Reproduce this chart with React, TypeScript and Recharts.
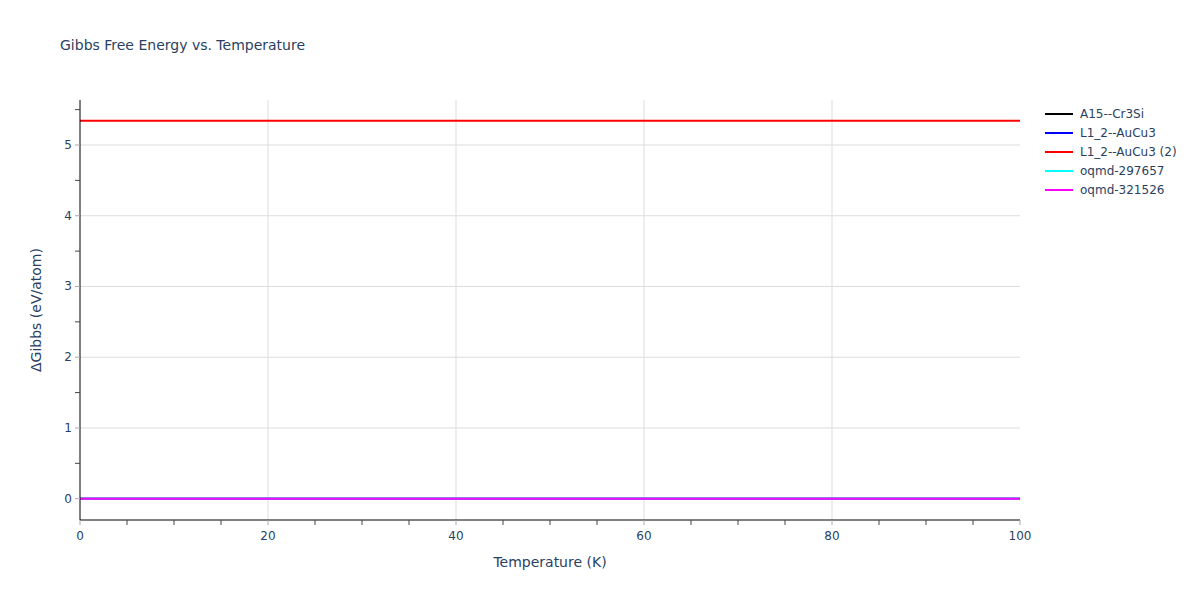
import { LineChart, Line, XAxis, YAxis, CartesianGrid, Label } from "recharts"

const temperature = [0, 10, 20, 30, 40, 50, 60, 70, 80, 90, 100]
const a15Cr3Si = [0, 0, 0, 0, 0, 0, 0, 0, 0, 0, 0]
const l12AuCu3 = [0, 0, 0, 0, 0, 0, 0, 0, 0, 0, 0]
const l12AuCu3b = [5.343, 5.343, 5.343, 5.343, 5.343, 5.343, 5.343, 5.343, 5.343, 5.343, 5.343]
const oqmd297657 = [0, 0, 0, 0, 0, 0, 0, 0, 0, 0, 0]
const oqmd321526 = [0, 0, 0, 0, 0, 0, 0, 0, 0, 0, 0]

const xTicks = [0, 5, 10, 15, 20, 25, 30, 35, 40, 45, 50, 55, 60, 65, 70, 75, 80, 85, 90, 95, 100]
const xMajor = [0, 20, 40, 60, 80, 100]
const yTicks = [0, 0.5, 1, 1.5, 2, 2.5, 3, 3.5, 4, 4.5, 5, 5.5]
const yMajor = [0, 1, 2, 3, 4, 5]

const series = [
  { key: "a15", name: "A15--Cr3Si", color: "#000000" },
  { key: "l12", name: "L1_2--AuCu3", color: "#0000ff" },
  { key: "l12b", name: "L1_2--AuCu3 (2)", color: "#ff0000" },
  { key: "oq1", name: "oqmd-297657", color: "#00ffff" },
  { key: "oq2", name: "oqmd-321526", color: "#ff00ff" },
]

const data = temperature.map((t, i) => ({
  t,
  a15: a15Cr3Si[i],
  l12: l12AuCu3[i],
  l12b: l12AuCu3b[i],
  oq1: oqmd297657[i],
  oq2: oqmd321526[i],
}))

const font = '"DejaVu Sans", Verdana, sans-serif'
const textColor = "#2a3f5f"

function XTick(props: any) {
  const { x, y, payload } = props
  const major = xMajor.includes(payload.value)
  return (
    <g>
      <line x1={x} x2={x} y1={y - 5} y2={y} stroke={major ? "#aaaaaa" : "#444444"} strokeWidth={1} />
      {major && (
        <text x={x} y={y + 15} textAnchor="middle" fill={textColor} fontSize={12} fontFamily={font}>
          {payload.value}
        </text>
      )}
    </g>
  )
}

function YTick(props: any) {
  const { x, y, payload } = props
  const major = yMajor.includes(payload.value)
  return (
    <g>
      <line x1={x} x2={x + 5} y1={y} y2={y} stroke={major ? "#aaaaaa" : "#444444"} strokeWidth={1} />
      {major && (
        <text x={x - 3} y={y + 4} textAnchor="end" fill={textColor} fontSize={12} fontFamily={font}>
          {payload.value}
        </text>
      )}
    </g>
  )
}

export default function App() {
  return (
    <div style={{ position: "absolute", left: 0, top: 0, width: 1200, height: 600, background: "#fff" }}>
      <div
        style={{
          position: "absolute",
          left: 60,
          top: 37,
          fontFamily: font,
          fontSize: 14,
          color: textColor,
          whiteSpace: "nowrap",
        }}
      >
        Gibbs Free Energy vs. Temperature
      </div>
      {/* legend */}
      <div
        style={{
          position: "absolute",
          left: 1045,
          top: 104,
          fontFamily: font,
          fontSize: 12,
          color: textColor,
        }}
      >
        {series.map((s) => (
          <div key={s.key} style={{ display: "flex", alignItems: "center", height: 19, whiteSpace: "nowrap" }}>
            <div style={{ width: 28, height: 2, background: s.color, marginRight: 7 }} />
            <span>{s.name}</span>
          </div>
        ))}
      </div>
      <LineChart width={1200} height={600} data={data} margin={{ top: 100, right: 180, bottom: 50, left: 0 }}>
        <CartesianGrid
          stroke="#dddddd"
          horizontalValues={[1, 2, 3, 4, 5]}
          verticalValues={[20, 40, 60, 80]}
        />
        <XAxis
          dataKey="t"
          type="number"
          domain={[0, 100]}
          ticks={xTicks}
          interval={0}
          tickSize={5}
          tickMargin={0}
          tickLine={false}
          tick={<XTick />}
          height={30}
          stroke="#000000"
          allowDataOverflow
        >
          <Label value="Temperature (K)" position="bottom" offset={7} fill={textColor} fontSize={14} fontFamily={font} />
        </XAxis>
        <YAxis
          type="number"
          domain={[-0.301, 5.636]}
          ticks={yTicks}
          interval={0}
          tickSize={5}
          tickMargin={0}
          tickLine={false}
          tick={<YTick />}
          width={80}
          stroke="#000000"
          allowDataOverflow
        >
          <Label
            value="ΔGibbs (eV/atom)"
            angle={-90}
            position="insideLeft"
            offset={36}
            fill={textColor}
            fontSize={14}
            fontFamily={font}
            style={{ textAnchor: "middle" }}
          />
        </YAxis>
        {series.map((s) => (
          <Line
            key={s.key}
            dataKey={s.key}
            name={s.name}
            stroke={s.color}
            strokeWidth={2}
            dot={false}
            type="linear"
            isAnimationActive={false}
          />
        ))}
      </LineChart>
    </div>
  )
}
